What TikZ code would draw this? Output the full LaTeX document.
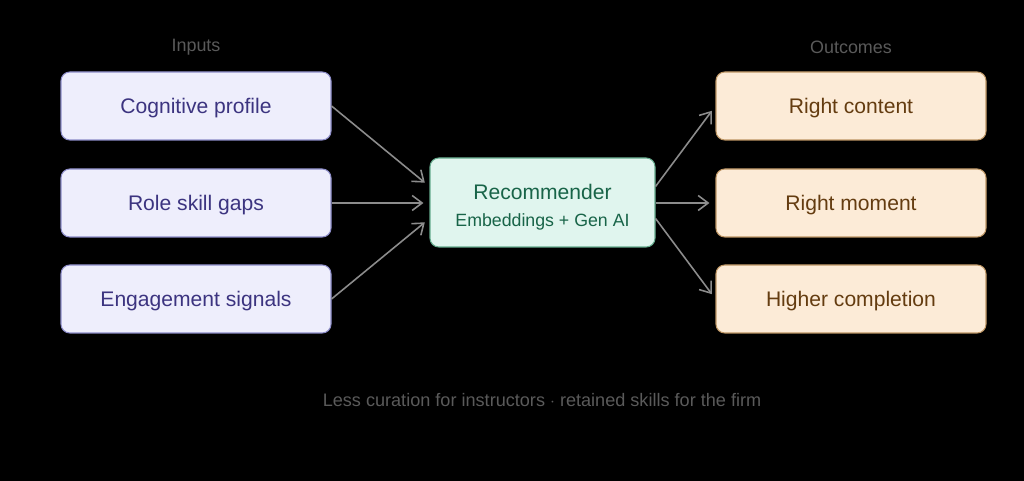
\documentclass[tikz,border=0pt]{standalone}
\usepackage{fontspec}
\setmainfont{Liberation Sans}
\usetikzlibrary{arrows.meta, positioning}
\definecolor{inbg}{RGB}{238, 238, 252}
\definecolor{inline}{RGB}{140, 140, 200}
\definecolor{intext}{RGB}{60, 52, 128}
\definecolor{recbg}{RGB}{224, 245, 238}
\definecolor{recline}{RGB}{100, 170, 140}
\definecolor{rectext}{RGB}{24, 100, 72}
\definecolor{outbg}{RGB}{252, 235, 215}
\definecolor{outline}{RGB}{190, 150, 100}
\definecolor{outtext}{RGB}{100, 60, 16}
\definecolor{wire}{RGB}{140, 140, 140}
\definecolor{cap}{RGB}{90, 90, 90}
\tikzset{
    inbox/.style ={draw=inline, line width=0.6pt, fill=inbg, text=intext,
                   minimum width=5.4cm, minimum height=1.36cm, text depth=0pt,
                   align=center, font=\fontsize{12}{14}\selectfont, rounded corners=5pt},
    outbox/.style={inbox, draw=outline, fill=outbg, text=outtext},
    recbox/.style={draw=recline, line width=0.6pt, fill=recbg, text=rectext,
                   minimum width=4.5cm, minimum height=1.78cm,
                   align=center, font=\fontsize{12}{16}\selectfont, rounded corners=5pt},
    ar/.style    ={-{Straight Barb[length=2mm, width=3mm]}, line width=0.9pt, draw=wire, shorten >=0.12cm},
    hdr/.style   ={font=\fontsize{10.2}{12}\selectfont, text=cap},
}
\begin{document}
\begin{tikzpicture}
  \fill[black] (0,0) rectangle (20.48,9.62);
  \useasboundingbox (0,0) rectangle (20.48,9.62);
  % inputs
  \node[hdr] (inhdr) at (3.92, 8.68) {Inputs};
  \node[inbox] (cog) at (3.92, 7.50) {Cognitive profile};
  \node[inbox] (gap) at (3.92, 5.56) {Role skill gaps};
  \node[inbox] (eng) at (3.92, 3.64) {Engagement signals};
  % recommender
  \node[recbox] (rec) at (10.85, 5.57) {\rule{0pt}{14pt}Recommender\\[-1pt]{\fontsize{10.1}{12}\selectfont Embeddings + Gen AI}};
  % outcomes
  \node[hdr] (outhdr) at (17.02, 8.68) {Outcomes};
  \node[outbox] (cont) at (17.02, 7.50) {Right content};
  \node[outbox] (mom) at (17.02, 5.56) {Right moment};
  \node[outbox] (comp) at (17.02, 3.64) {Higher completion};
  % connectors
  \draw[ar] (cog.east) -- ([yshift=0.32cm]rec.west);
  \draw[ar] (gap.east) -- (gap.east -| rec.west);
  \draw[ar] (eng.east) -- ([yshift=-0.32cm]rec.west);
  \draw[ar] ([yshift=0.32cm]rec.east) -- (cont.west);
  \draw[ar] (rec.east |- mom.west) -- (mom.west);
  \draw[ar] ([yshift=-0.32cm]rec.east) -- (comp.west);
  % footer
  \node[hdr, font=\fontsize{10.3}{12}\selectfont] (foot) at (10.84, 1.62) {Less curation for instructors $\cdot$ retained skills for the firm};
\end{tikzpicture}
\end{document}
